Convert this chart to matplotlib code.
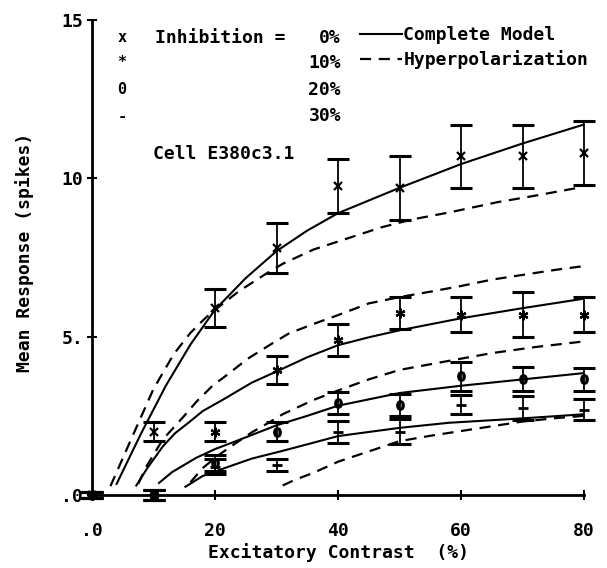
import matplotlib
matplotlib.use("Agg")
import matplotlib.pyplot as plt
from matplotlib.lines import Line2D

W, H = 607, 568

# measured responses (spikes) at each excitatory contrast (%)
contrast = [0, 10, 20, 30, 40, 50, 60, 70, 80]

resp_0 = [0, 2.0, 5.9, 7.8, 9.75, 9.7, 10.7, 10.7, 10.8]
err_0 = [0.1, 0.3, 0.6, 0.8, 0.85, 1.0, 1.0, 1.0, 1.0]
resp_10 = [0, 0, 2.0, 3.95, 4.9, 5.75, 5.7, 5.7, 5.7]
err_10 = [0.1, 0.15, 0.3, 0.45, 0.5, 0.5, 0.55, 0.7, 0.55]
resp_20 = [0, 0, 1.0, 2.0, 2.9, 2.85, 3.75, 3.65, 3.65]
err_20 = [0.1, 0.15, 0.25, 0.3, 0.35, 0.35, 0.45, 0.38, 0.35]
resp_30 = [0, 0, 0.9, 0.95, 2.0, 2.0, 2.85, 2.75, 2.7]
err_30 = [0.1, 0.15, 0.25, 0.2, 0.35, 0.4, 0.3, 0.37, 0.32]

# model curves
full_0_x = [4, 8, 12, 16, 20, 25, 30, 35, 40, 50, 60, 70, 80]
full_0_y = [0.35, 1.95, 3.45, 4.75, 5.85, 6.85, 7.7, 8.35, 8.9, 9.7, 10.45, 11.1, 11.7]
hyp_0_x = [3, 6, 10, 13.3, 16, 18.5, 21, 24, 28, 31, 36, 41.5, 47, 52, 58, 66, 72, 79]
hyp_0_y = [0.28, 1.6, 3.35, 4.45, 5.12, 5.6, 6.0, 6.45, 6.95, 7.3, 7.75, 8.1, 8.45, 8.7, 8.92, 9.25, 9.45, 9.7]

full_10_x = [7.2, 9, 11.5, 13.5, 15.8, 18, 21.2, 26, 30, 35, 40, 45, 50, 60, 70, 80]
full_10_y = [0.3, 0.85, 1.53, 1.95, 2.3, 2.65, 3.0, 3.55, 3.9, 4.35, 4.73, 4.98, 5.2, 5.58, 5.9, 6.2]
hyp_10_x = [7.5, 9, 11.5, 15, 17, 19.6, 22, 25.3, 29, 32, 36, 40, 45, 50, 55, 60, 65, 70, 75, 80]
hyp_10_y = [0.35, 0.95, 1.75, 2.5, 2.95, 3.45, 3.8, 4.3, 4.75, 5.1, 5.4, 5.68, 6.05, 6.25, 6.42, 6.6, 6.8, 6.95, 7.1, 7.23]

full_20_x = [10.9, 13, 16.9, 20, 23.4, 30, 35, 40, 50, 60, 70, 80]
full_20_y = [0.38, 0.72, 1.17, 1.45, 1.7, 2.2, 2.5, 2.82, 3.22, 3.45, 3.65, 3.85]
hyp_20_x = [16, 18, 20.5, 23.4, 26, 28.7, 31, 36, 40, 45, 50, 57, 65, 72, 80]
hyp_20_y = [0.4, 0.85, 1.25, 1.64, 1.98, 2.28, 2.55, 3.0, 3.3, 3.65, 3.95, 4.2, 4.48, 4.67, 4.85]

full_30_x = [15.2, 18, 22.3, 26, 30.7, 35, 40, 50, 58, 70, 80]
full_30_y = [0.26, 0.6, 0.9, 1.15, 1.38, 1.6, 1.86, 2.12, 2.28, 2.42, 2.55]
hyp_30_x = [31, 33, 36, 40, 43.2, 50, 55, 60, 66, 70, 75, 80]
hyp_30_y = [0.3, 0.48, 0.7, 1.05, 1.26, 1.7, 1.87, 2.02, 2.2, 2.32, 2.42, 2.5]

x_ticks = [0, 20, 40, 60, 80]
x_tick_labels = [".0", "20", "40", "60", "80"]
y_ticks = [0, 5, 10, 15]
y_tick_labels = [".0", "5.", "10", "15"]

inhibition_labels = ["0%", "10%", "20%", "30%"]
symbol_labels = ["x", "*", "0", "-"]

FONT = 13
DASH = (0, (8, 5.5))

plt.rcParams["font.family"] = "DejaVu Sans Mono"
plt.rcParams["font.weight"] = "bold"
plt.rcParams["lines.scale_dashes"] = False


def fx(px):
    return px / W


def fy(py):
    return 1 - py / H


fig = plt.figure(figsize=(W / 100, H / 100), dpi=100)
fig.patch.set_facecolor("white")
ax = fig.add_axes([fx(92), fy(495), fx(584) - fx(92), fy(20) - fy(495)])
ax.set_xlim(0, 80)
ax.set_ylim(0, 15)

for xs, ys in [(full_0_x, full_0_y), (full_10_x, full_10_y),
               (full_20_x, full_20_y), (full_30_x, full_30_y)]:
    ax.plot(xs, ys, color="black", lw=1.5, zorder=2)

for xs, ys in [(hyp_0_x, hyp_0_y), (hyp_10_x, hyp_10_y),
               (hyp_20_x, hyp_20_y), (hyp_30_x, hyp_30_y)]:
    ax.plot(xs, ys, color="black", lw=1.6, ls=DASH, zorder=2)

series = [
    (resp_0, err_0, dict(marker="x", ms=6, mew=1.6)),
    (resp_10, err_10, dict(marker=(6, 2, 0), ms=7, mew=1.6)),
    (resp_20, err_20, dict(marker="$0$", ms=7, mew=0.6)),
    (resp_30, err_30, dict(marker="_", ms=7, mew=2.0)),
]
for resp, err, mstyle in series:
    ax.errorbar(contrast, resp, yerr=err, fmt="none", ecolor="black",
                elinewidth=1.3, capsize=8, capthick=2.2, clip_on=False, zorder=3)
    ax.plot(contrast, resp, ls="none", color="black", mfc="black", mec="black",
            clip_on=False, zorder=4, **mstyle)

for side in ("top", "right"):
    ax.spines[side].set_visible(False)
for side in ("left", "bottom"):
    ax.spines[side].set_linewidth(2)

ax.set_xticks(x_ticks)
ax.set_xticklabels(x_tick_labels)
ax.set_yticks(y_ticks)
ax.set_yticklabels(y_tick_labels)
ax.tick_params(axis="both", direction="inout", length=7, width=1.5,
               labelsize=FONT)
ax.tick_params(axis="x", pad=16)
ax.tick_params(axis="y", pad=3)

fig.text(fx(338), fy(553), "Excitatory Contrast  (%)", ha="center",
         va="center", fontsize=FONT)
fig.text(fx(25), fy(252), "Mean Response (spikes)", ha="center",
         va="center", rotation=90, fontsize=FONT)

rows = [38, 63, 90, 116]
for sym, lab, row in zip(symbol_labels, inhibition_labels, rows):
    fig.text(fx(122), fy(row), sym, ha="center", va="center", fontsize=FONT - 2)
    fig.text(fx(341), fy(row), lab, ha="right", va="center", fontsize=FONT)
fig.text(fx(155), fy(rows[0]), "Inhibition =", ha="left", va="center",
         fontsize=FONT)
fig.text(fx(153), fy(154), "Cell E380c3.1", ha="left", va="center",
         fontsize=FONT)

handles = [Line2D([], [], color="black", lw=1.5),
           Line2D([], [], color="black", lw=1.6, ls=DASH)]
ax.legend(handles, ["Complete Model", "Hyperpolarization"],
          loc="upper left", bbox_to_anchor=(fx(360), fy(26)),
          bbox_transform=fig.transFigure, frameon=False, fontsize=FONT,
          handlelength=2.3, handletextpad=0.1, labelspacing=0.35,
          borderpad=0, borderaxespad=0)

fig.savefig("out.png", dpi=100, facecolor="white")
